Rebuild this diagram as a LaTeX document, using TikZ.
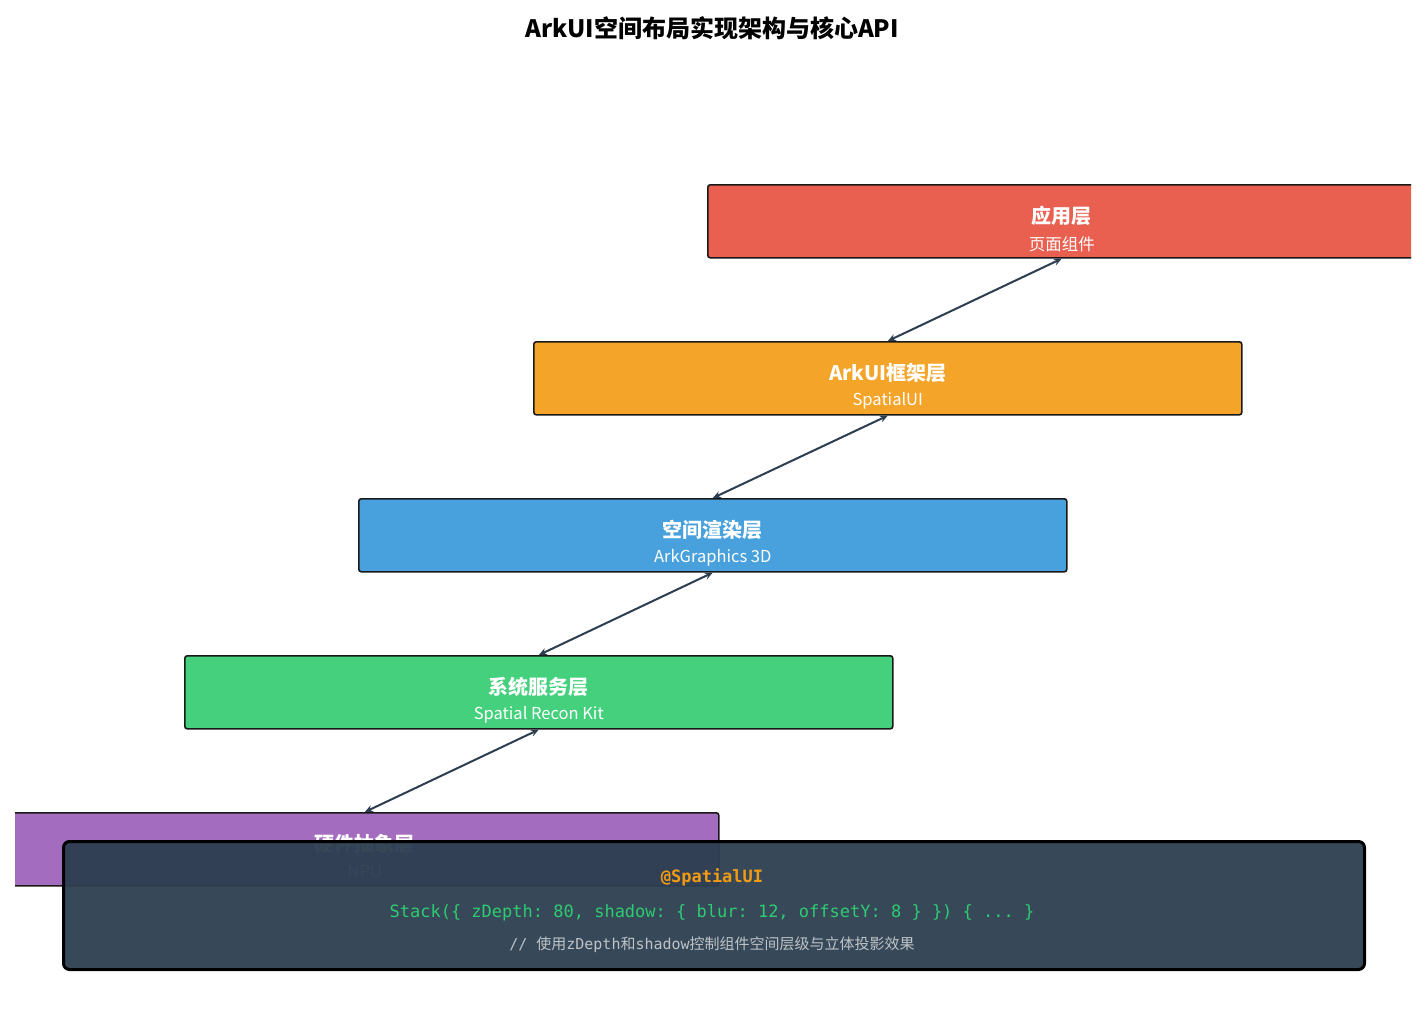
\documentclass[tikz,border=0pt]{standalone}
\usepackage{fontspec}
\usetikzlibrary{arrows.meta}
\setmainfont{Noto Sans CJK SC}
\newfontfamily\cjk{Noto Sans CJK SC}
\setmonofont{DejaVu Sans Mono}
\definecolor{cred}{HTML}{E95F50}
\definecolor{corange}{HTML}{F5A42A}
\definecolor{cblue}{HTML}{48A1DD}
\definecolor{cgreen}{HTML}{44D07C}
\definecolor{cpurple}{HTML}{A46CBE}
\definecolor{cdark}{HTML}{2C3E50}
\definecolor{ccode}{HTML}{2ECC71}
\definecolor{cat}{HTML}{F39C12}
\definecolor{ccom}{HTML}{BDC3C7}
\begin{document}
\begin{tikzpicture}[x=1pt,y=-1pt,
  layer/.style={draw=black!90,line width=1.6pt,rounded corners=2.5pt,minimum width=708pt,minimum height=73pt,anchor=north west,inner sep=0pt},
  ttl/.style={text=white,font=\fontsize{20}{22}\selectfont\bfseries},
  sub/.style={text=white,font=\fontsize{16.5}{18}\selectfont},
  arr/.style={cdark,line width=2pt,{Stealth[length=8pt,width=7pt]}-{Stealth[length=8pt,width=7pt]}}]
\useasboundingbox (0,0) rectangle (1425,1021);
\node[font=\fontsize{24}{26}\selectfont\bfseries] (title) at (712,28) {ArkUI空间布局实现架构与核心API};
\begin{scope}
\clip (15,0) rectangle (1411,1021);
\node[layer,fill=cred] (l1) at (707,184) {};
\node[layer,fill=corange] (l2) at (533,341) {};
\node[layer,fill=cblue] (l3) at (358,498) {};
\node[layer,fill=cgreen] (l4) at (184,655) {};
\node[layer,fill=cpurple] (l5) at (10,812) {};
\end{scope}
\foreach \n/\t/\s in {l1/应用层/页面组件 / 业务逻辑, l2/ArkUI框架层/SpatialUI / Stack / Column, l3/空间渲染层/ArkGraphics 3D / 深度合成, l4/系统服务层/Spatial Recon Kit / 沉浸光感, l5/硬件抽象层/NPU / GPU / 传感器}{
  \node[ttl] at ([yshift=-32pt]\n.north) {\t};
  \node[sub] at ([yshift=-60pt]\n.north) {\s};
}
\draw[arr] (l1.south) -- (l2.north);
\draw[arr] (l2.south) -- (l3.north);
\draw[arr] (l3.south) -- (l4.north);
\draw[arr] (l4.south) -- (l5.north);
\node[draw=black,line width=3pt,fill=cdark,fill opacity=0.95,rounded corners=6pt,minimum width=1301pt,minimum height=128pt,anchor=north west] (code) at (62,840) {};
\node[text=cat,font=\ttfamily\bfseries\fontsize{17}{19}\selectfont] (at) at (712,877) {@SpatialUI};
\node[text=ccode,font=\ttfamily\fontsize{17}{19}\selectfont] (stk) at (712,913) {Stack(\{ zDepth: 80, shadow: \{ blur: 12, offsetY: 8 \} \}) \{ ... \}};
\node[text=ccom,font=\ttfamily\fontsize{15}{17}\selectfont] (com) at (712,945) {// {\cjk 使用}zDepth{\cjk 和}shadow{\cjk 控制组件空间层级与立体投影效果}};
\end{tikzpicture}
\end{document}
